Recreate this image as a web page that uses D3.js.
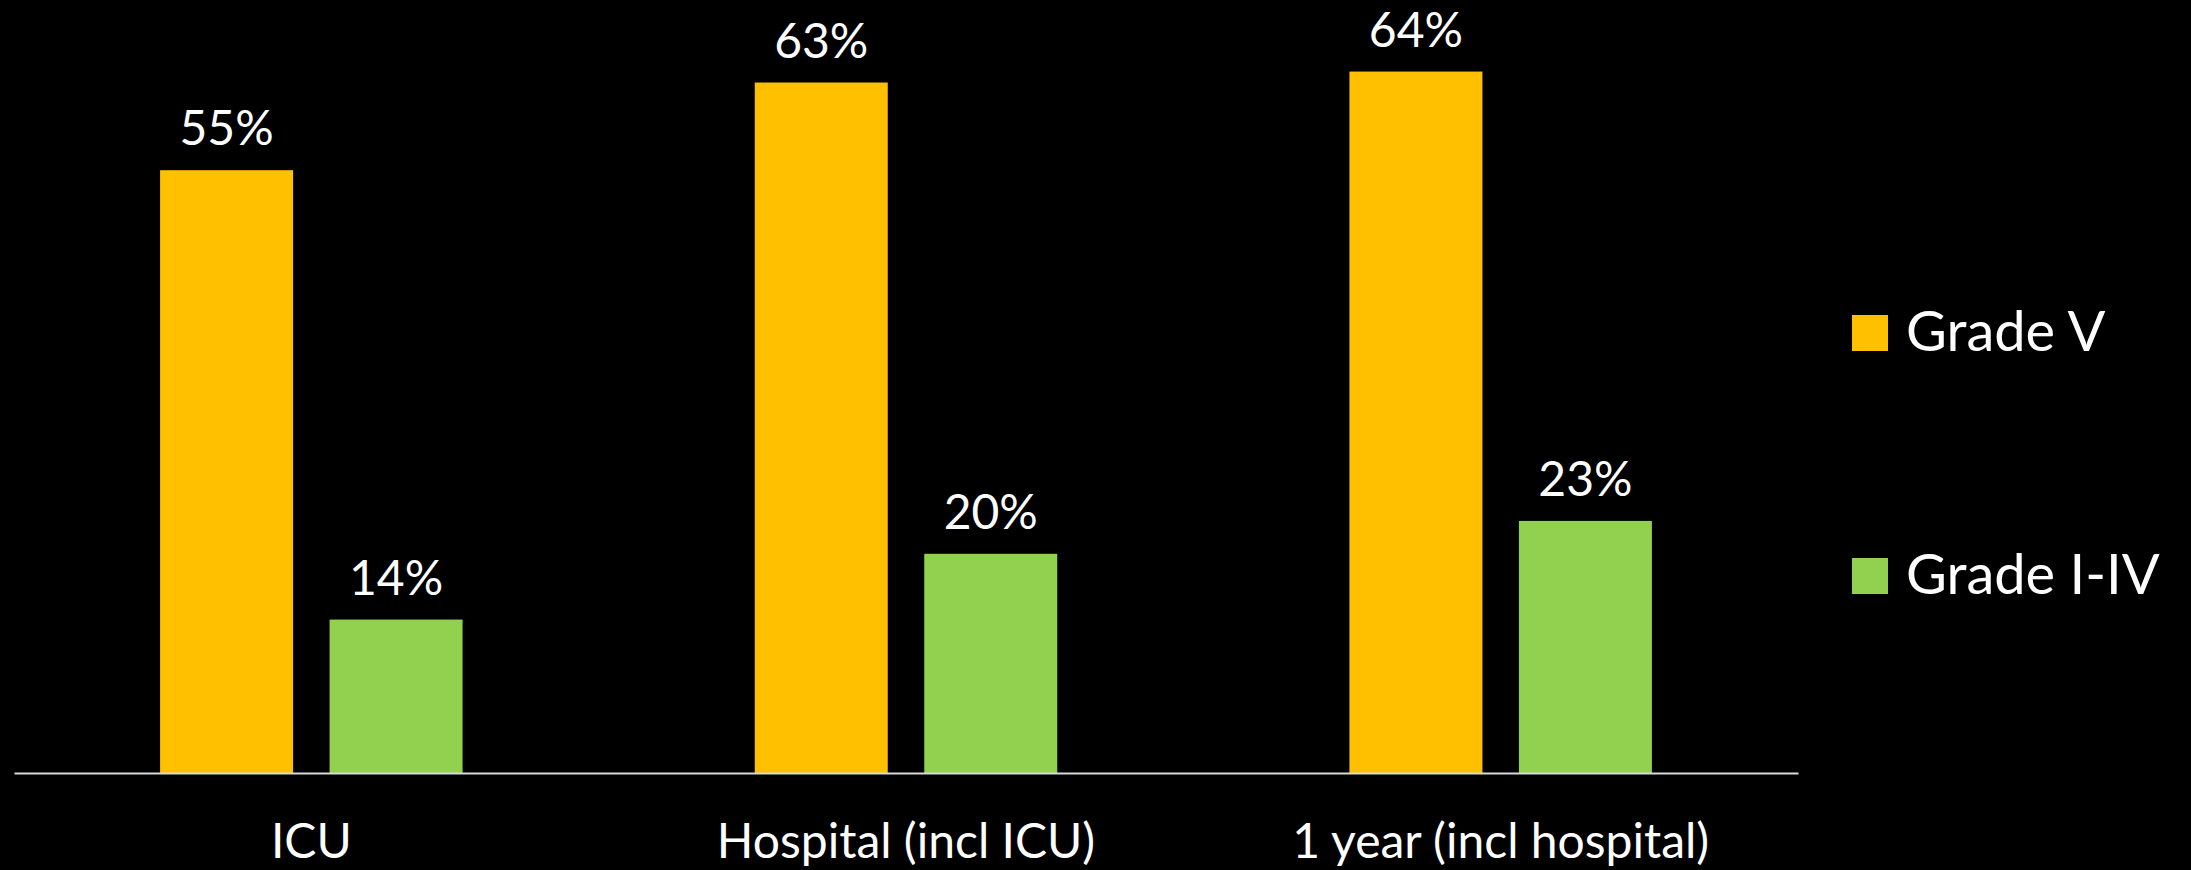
<!DOCTYPE html>
<html>
<head>
<meta charset="utf-8">
<script src="https://cdn.jsdelivr.net/npm/d3@7"></script>
<style>
  html, body { margin: 0; padding: 0; background: #000; }
  svg { display: block; }
  text { font-family: Lato, "Open Sans", sans-serif; fill: #fff; }
</style>
</head>
<body>
<svg id="chart" width="2191" height="870"></svg>
<script>
const categories = ["ICU", "Hospital (incl ICU)", "1 year (incl hospital)"];
const seriesNames = ["Grade V", "Grade I-IV"];
const gradeV = [55, 63, 64];
const gradeIIV = [14, 20, 23];
const seriesColors = ["#FFC000", "#92D050"];

const svg = d3.select("#chart");
const W = 2191, H = 870;
svg.append("rect").attr("width", W).attr("height", H).attr("fill", "#000");

const plotLeft = 14, plotRight = 1798, baseY = 773;
const y = d3.scaleLinear().domain([0, 70]).range([baseY, baseY - 70 * 10.96]);
const x0 = d3.scaleBand().domain(categories).range([plotLeft, plotRight]).paddingInner(0).paddingOuter(0);
const x1 = d3.scaleBand().domain(seriesNames).range([0, x0.bandwidth()]).paddingInner(0.2153).paddingOuter(0.862);

const data = categories.map((c, i) => ({
  cat: c,
  vals: [{s: seriesNames[0], v: gradeV[i]}, {s: seriesNames[1], v: gradeIIV[i]}]
}));

const g = svg.append("g");
const groups = g.selectAll("g.grp").data(data).join("g")
  .attr("class", "grp")
  .attr("transform", d => `translate(${x0(d.cat)},0)`);

groups.selectAll("rect").data(d => d.vals).join("rect")
  .attr("x", d => x1(d.s))
  .attr("width", x1.bandwidth())
  .attr("y", d => y(d.v))
  .attr("height", d => y(0) - y(d.v))
  .attr("fill", (d, i) => seriesColors[i]);

groups.selectAll("text.lbl").data(d => d.vals).join("text")
  .attr("class", "lbl")
  .attr("x", d => x1(d.s) + x1.bandwidth() / 2)
  .attr("y", d => y(d.v) - 25)
  .attr("text-anchor", "middle")
  .style("font-size", "48px")
  .text(d => d.v + "%");

// x axis
const xAxis = d3.axisBottom(x0).tickSize(0).tickPadding(0);
const axG = svg.append("g").attr("transform", `translate(0,${baseY})`).call(xAxis);
axG.select(".domain").attr("stroke", "#d9d9d9").attr("stroke-width", 2);
axG.selectAll(".tick text")
  .attr("y", 85).attr("dy", 0)
  .style("font-size", "48px")
  .style("font-family", "Lato, 'Open Sans', sans-serif")
  .attr("fill", "#fff");

// legend
const legendY = [333, 576];
const leg = svg.append("g");
seriesNames.forEach((s, i) => {
  leg.append("rect").attr("x", 1852).attr("y", legendY[i] - 18).attr("width", 36).attr("height", 36).attr("fill", seriesColors[i]);
  leg.append("text").attr("x", 1906).attr("y", legendY[i] + 18).style("font-size", "56px").text(s);
});
</script>
</body>
</html>
